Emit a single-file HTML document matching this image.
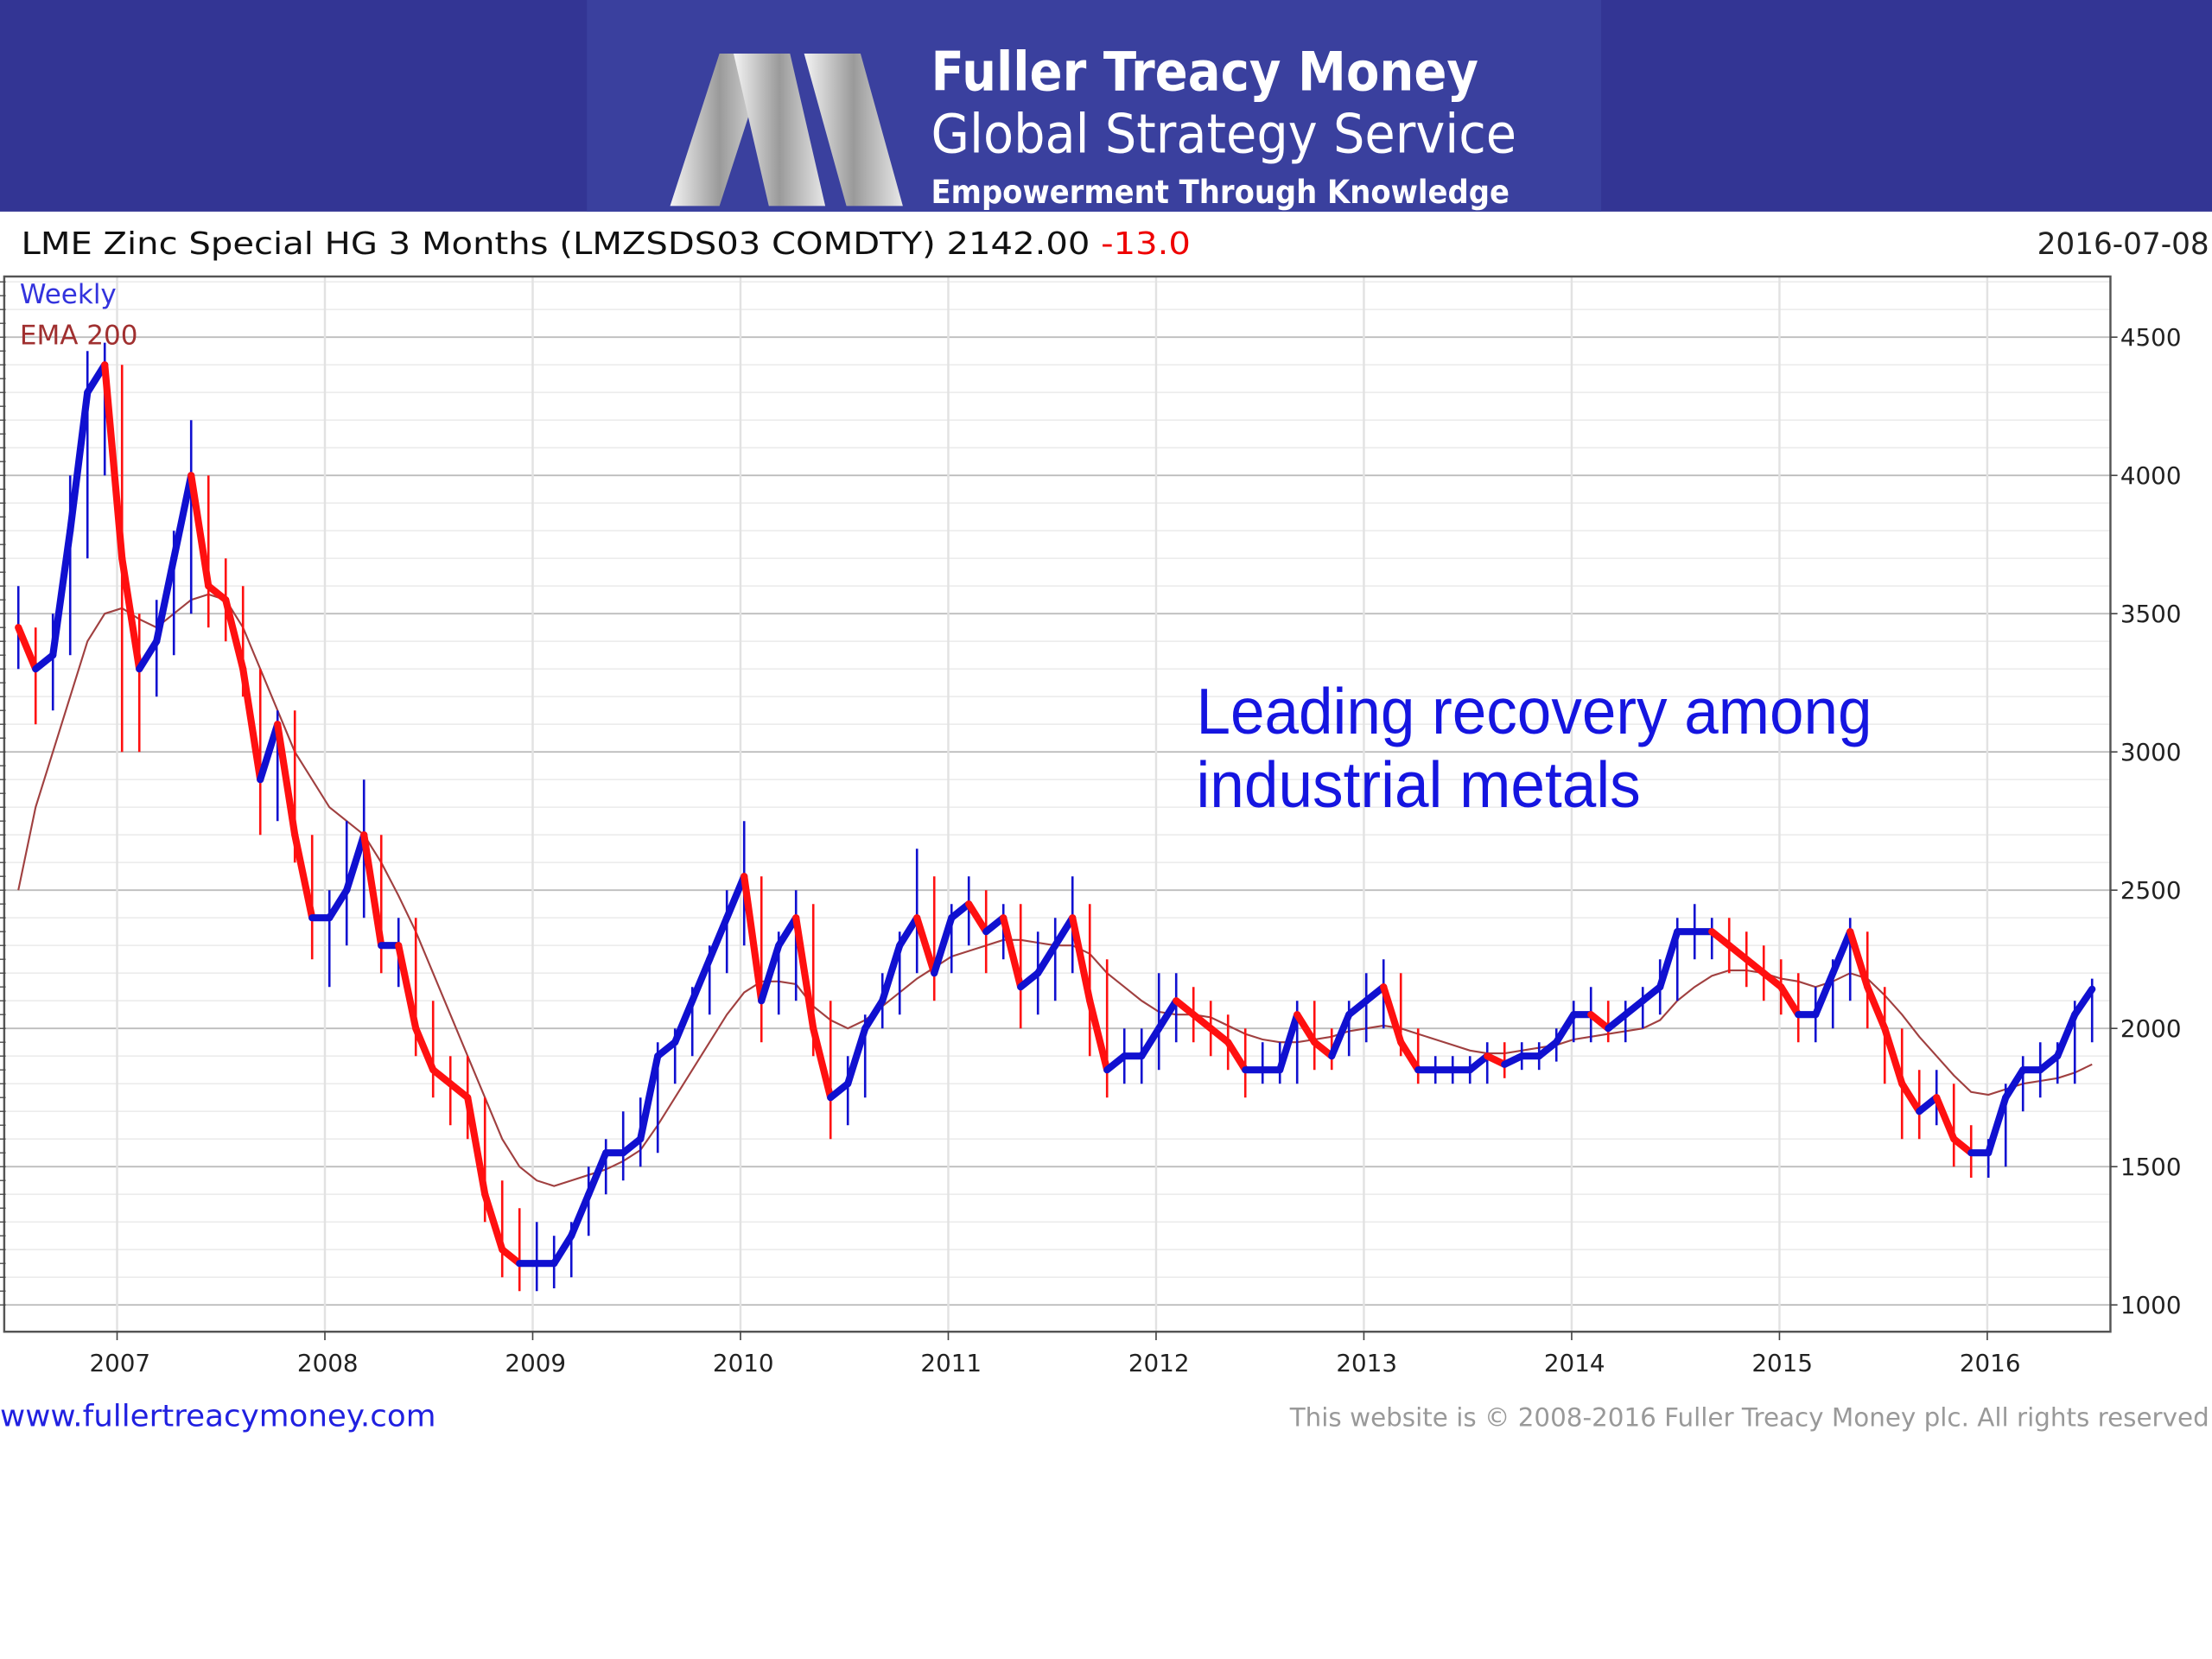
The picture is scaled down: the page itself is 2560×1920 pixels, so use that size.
<!DOCTYPE html>
<html><head><meta charset="utf-8"><style>
html,body{margin:0;padding:0;background:#fff;}
svg{display:block;}
</style></head><body>
<svg id="chart" width="2560" height="1920" viewBox="0 0 1568 1176" xmlns="http://www.w3.org/2000/svg" font-family="'DejaVu Sans', 'Liberation Sans', sans-serif">
<rect x="0" y="0" width="1568" height="1176" fill="#fff"/>
<g>
<rect x="0" y="0" width="1568" height="150" fill="#333594"/>
<rect x="416" y="0" width="719" height="150" fill="#3a409e"/>
<defs><linearGradient id="mg" x1="0" x2="1"><stop offset="0" stop-color="#f4f4f4"/><stop offset="0.5" stop-color="#9a9a9a"/><stop offset="1" stop-color="#e8e8e8"/></linearGradient></defs>
<g>
<polygon points="475,146 510,38 545,38 510,146" fill="url(#mg)"/>
<polygon points="520,38 560,38 585,146 545,146" fill="url(#mg)"/>
<polygon points="570,38 610,38 640,146 600,146" fill="url(#mg)"/>
</g>
<text x="660" y="64" fill="#fff" font-size="38" font-weight="bold" textLength="388" lengthAdjust="spacingAndGlyphs">Fuller Treacy Money</text>
<text x="660" y="108" fill="#fff" font-size="38" textLength="415" lengthAdjust="spacingAndGlyphs">Global Strategy Service</text>
<text x="660" y="144" fill="#fff" font-size="23" font-weight="bold" textLength="410" lengthAdjust="spacingAndGlyphs">Empowerment Through Knowledge</text>
</g>
<text x="15" y="180" font-size="22" fill="#111" textLength="829" lengthAdjust="spacingAndGlyphs">LME Zinc Special HG 3 Months (LMZSDS03 COMDTY) 2142.00 <tspan fill="#e00">-13.0</tspan></text>
<text x="1566" y="180" font-size="21" fill="#222" text-anchor="end">2016-07-08</text>
<g id="grid"></g>
<rect x="3" y="196" width="1493" height="748" fill="none" stroke="#555" stroke-width="1.5"/>
<g id="axes"></g>
<g id="ema"></g>
<g id="price"></g>
<text x="14" y="215" font-size="19" fill="#3333dd">Weekly</text>
<text x="14" y="244" font-size="19" fill="#a03030">EMA 200</text>
<text x="848" y="520" font-size="46" fill="#1515e0" font-family="'Liberation Sans',sans-serif" textLength="479" lengthAdjust="spacingAndGlyphs">Leading recovery among</text>
<text x="848" y="572" font-size="46" fill="#1515e0" font-family="'Liberation Sans',sans-serif" textLength="315" lengthAdjust="spacingAndGlyphs">industrial metals</text>
<text x="0" y="1011" font-size="21" fill="#2020e0" textLength="309" lengthAdjust="spacingAndGlyphs">www.fullertreacymoney.com</text>
<text x="1566" y="1011" font-size="18" fill="#999" text-anchor="end">This website is © 2008-2016 Fuller Treacy Money plc. All rights reserved</text>
</svg>
<script>
const yearLabels = ["2007","2008","2009","2010","2011","2012","2013","2014","2015","2016"];
const yTicks = [1000,1500,2000,2500,3000,3500,4000,4500];
// monthly closes Jul 2006 .. Jul 2016
const closes = [3450,3300,3350,3800,4300,4400,
3700,3300,3400,3700,4000,3600,3550,3300,2900,3100,2700,2400,
2400,2500,2700,2300,2300,2000,1850,1800,1750,1400,1200,1150,
1150,1150,1250,1400,1550,1550,1600,1900,1950,2100,2250,2400,
2550,2100,2300,2400,2000,1750,1800,2000,2100,2300,2400,2200,
2400,2450,2350,2400,2150,2200,2300,2400,2100,1850,1900,1900,
2000,2100,2050,2000,1950,1850,1850,1850,2050,1950,1900,2050,
2100,2150,1950,1850,1850,1850,1850,1900,1870,1900,1900,1950,
2050,2050,2000,2050,2100,2150,2350,2350,2350,2300,2250,2200,
2150,2050,2050,2200,2350,2150,2000,1800,1700,1750,1600,1550,
1550,1750,1850,1850,1900,2050,2142];
const highs = [3600,3450,3500,4000,4450,4480,
4400,3500,3550,3800,4200,4000,3700,3600,3300,3150,3150,2700,
2500,2750,2900,2700,2400,2400,2100,1900,1900,1750,1450,1350,
1300,1250,1300,1500,1600,1700,1750,1950,2000,2150,2300,2500,
2750,2550,2350,2500,2450,2100,1900,2050,2200,2350,2650,2550,
2450,2550,2500,2450,2450,2350,2400,2550,2450,2250,2000,2000,
2200,2200,2150,2100,2050,2000,1950,1950,2100,2100,2000,2100,
2200,2250,2200,2000,1900,1900,1900,1950,1950,1950,1950,2000,
2100,2150,2100,2100,2150,2250,2400,2450,2400,2400,2350,2300,
2250,2200,2150,2250,2400,2350,2150,2000,1850,1850,1800,1650,
1600,1800,1900,1950,1950,2100,2180];
const lows = [3300,3100,3150,3350,3700,4000,
3000,3000,3200,3350,3500,3450,3400,3200,2700,2750,2600,2250,
2150,2300,2400,2200,2150,1900,1750,1650,1600,1300,1100,1050,
1050,1060,1100,1250,1400,1450,1500,1550,1800,1900,2050,2200,
2300,1950,2050,2100,1900,1600,1650,1750,2000,2050,2200,2100,
2200,2300,2200,2250,2000,2050,2100,2200,1900,1750,1800,1800,
1850,1950,1950,1900,1850,1750,1800,1800,1800,1850,1850,1900,
1950,2000,1900,1800,1800,1800,1800,1800,1820,1850,1850,1880,
1950,1950,1950,1950,2000,2050,2100,2250,2250,2200,2150,2100,
2050,1950,1950,2000,2100,2000,1800,1600,1600,1650,1500,1460,
1460,1500,1700,1750,1800,1800,1950];
const ema = [2500,2800,3000,3200,3400,3500,
3520,3480,3450,3500,3550,3570,3550,3450,3300,3150,3000,2900,
2800,2750,2700,2600,2480,2350,2200,2050,1900,1750,1600,1500,
1450,1430,1450,1470,1490,1520,1560,1650,1750,1850,1950,2050,
2130,2170,2170,2160,2080,2030,2000,2030,2080,2130,2180,2220,
2260,2280,2300,2320,2320,2310,2300,2300,2270,2200,2150,2100,
2060,2050,2050,2040,2010,1980,1960,1950,1950,1960,1970,1990,
2000,2010,2000,1980,1960,1940,1920,1910,1910,1920,1930,1940,
1960,1970,1980,1990,2000,2030,2100,2150,2190,2210,2210,2200,
2180,2170,2150,2170,2200,2180,2120,2050,1970,1900,1830,1770,
1760,1780,1800,1810,1820,1840,1870];

const NS = "http://www.w3.org/2000/svg";
function yScale(v){ return 239 + (4500 - v) * 0.196; }
function xMonth(i){ return 13 + i * 12.25; }
function xYear(k){ return 85 + k * 147.3; }
function mk(tag, attrs, parent){ const e = document.createElementNS(NS, tag); for (const k in attrs) e.setAttribute(k, attrs[k]); parent.appendChild(e); return e; }

const grid = document.getElementById('grid');
const axes = document.getElementById('axes');
for (let v = 1000; v <= 4700; v += 100) {
  const major = v % 500 === 0;
  const l = mk('line', {x1:3, x2:1496, y1:yScale(v), y2:yScale(v), stroke: major ? '#bdbdbd' : '#ececec', 'stroke-width': major ? 1.2 : 1}, grid);
  
  
}
yTicks.forEach(function(v){
  const t = mk('text', {x:1503, y:yScale(v)+6, 'font-size':17, fill:'#222'}, axes);
  t.textContent = v;
  
  
  const tk = mk('line', {x1:1496, x2:1501, y1:yScale(v), y2:yScale(v), stroke:'#444'}, axes);
  
  
});
yearLabels.forEach(function(lab, k){
  const x = xYear(k);
  const gl = mk('line', {x1:x-2, x2:x-2, y1:196, y2:944, stroke:'#e2e2e2', 'stroke-width':1.5}, grid);
  
  
  const tk = mk('line', {x1:x-2, x2:x-2, y1:944, y2:950, stroke:'#444'}, axes);
  
  
  const t = mk('text', {x:x, y:972, 'font-size':17, fill:'#222', 'text-anchor':'middle'}, axes);
  t.textContent = lab;
  
  
});
for (let v = 1000; v <= 4700; v += 50) {
  const tk = mk('line', {x1:0, x2:4, y1:yScale(v), y2:yScale(v), stroke:'#444', 'stroke-width':0.8}, axes);
  
  
}

const emaG = document.getElementById('ema');
const ep = mk('polyline', {points: ema.map(function(v,i){ return xMonth(i)+','+yScale(v); }).join(' '), fill:'none', stroke:'#a04040', 'stroke-width':1.3}, emaG);



const pg = document.getElementById('price');
closes.forEach(function(c, i){
  const prev = i === 0 ? c : closes[i-1];
  const col = c >= prev ? '#1010d0' : '#ff1010';
  const w = mk('line', {x1:xMonth(i), x2:xMonth(i), y1:yScale(highs[i]), y2:yScale(lows[i]), stroke:col, 'stroke-width':1.6}, pg);
  
  
  if (i > 0) {
    const s = mk('line', {x1:xMonth(i-1), x2:xMonth(i), y1:yScale(prev), y2:yScale(c), stroke:col, 'stroke-width':5, 'stroke-linecap':'round'}, pg);
    
    
  }
});
</script>
</body></html>
